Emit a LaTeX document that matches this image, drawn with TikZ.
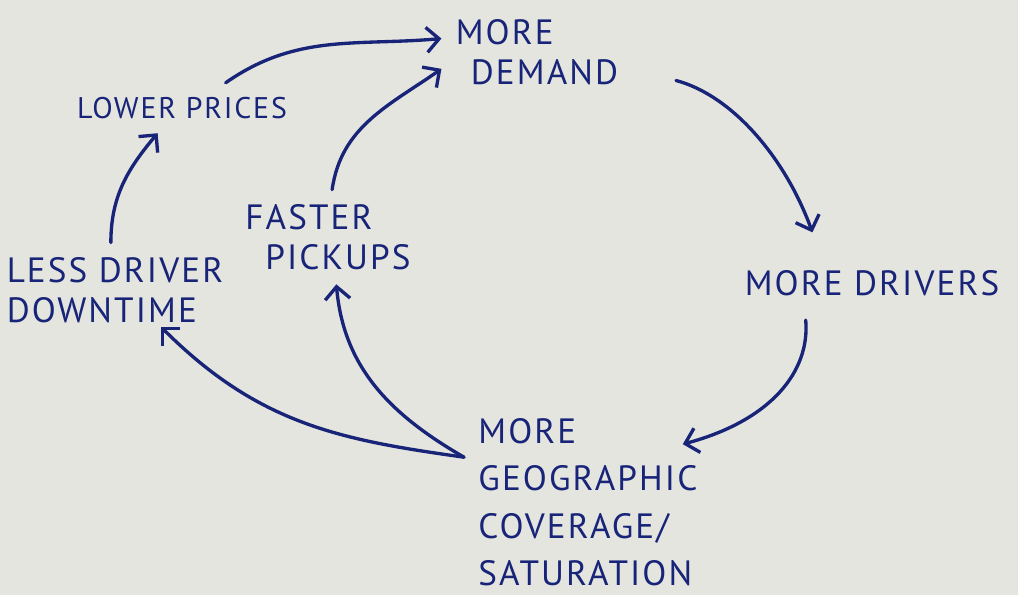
\documentclass[tikz,border=0pt]{standalone}
\usepackage{fontspec}
\newfontfamily\handfont[LetterSpace=6]{PT Sans}
\definecolor{ink}{rgb}{0.09,0.14,0.47}
\definecolor{paper}{rgb}{0.90,0.90,0.88}
\usetikzlibrary{arrows.meta}
\tikzstyle{base}=[x=0.02cm, y=0.02cm]
\tikzstyle{note}=[ink, inner sep=8pt, align=left, font=\handfont\fontsize{20}{23}\selectfont]
\tikzstyle{flow}=[ink, line width=1.9pt, line cap=round, -{Straight Barb[length=2.5mm,width=5mm]}]

\begin{document}
\begin{tikzpicture}[base]
    \fill [paper] (0,0) rectangle (1018,595);
    \path [use as bounding box] (0,0) rectangle (1018,595);
    % the loop
    \node [note] (demand) at (537,543) {MORE\\\hspace{0.3cm}DEMAND};
    \node [note] (drivers) at (872,312) {MORE DRIVERS};
    \node [note, anchor=north west, font=\handfont\fontsize{20}{27}\selectfont] (geo) at (464,191)
        {MORE\\GEOGRAPHIC\\COVERAGE/\\SATURATION};
    \node [note] (faster) at (328,358) {FASTER\\\hspace{0.4cm}PICKUPS};
    \node [note] (downtime) at (115,305) {LESS DRIVER\\DOWNTIME};
    \node [note, font=\handfont\fontsize{17}{20}\selectfont] (lower) at (182,487) {LOWER PRICES};
    % arrows
    \draw [flow] (lower.30) to[out=35, in=185] (demand.172);
    \draw [flow] (faster.85) to[out=82, in=215] (demand.190);
    \draw [flow, shorten <=0.9cm, shorten >=0.5cm] (demand.-10) to[out=-15, in=110] (drivers.152);
    \draw [flow, shorten <=0.2cm, shorten >=-0.6cm] (drivers.-158) to[out=-85, in=15] (geo.28);
    \draw [flow] (geo.160) to[out=150, in=-85] (faster.-80);
    \draw [flow, shorten >=-0.3cm] (geo.160) to[out=172, in=-45] (downtime.-40);
    \draw [flow] (downtime.95) to[out=90, in=-130] (lower.-134);
\end{tikzpicture}
\end{document}
